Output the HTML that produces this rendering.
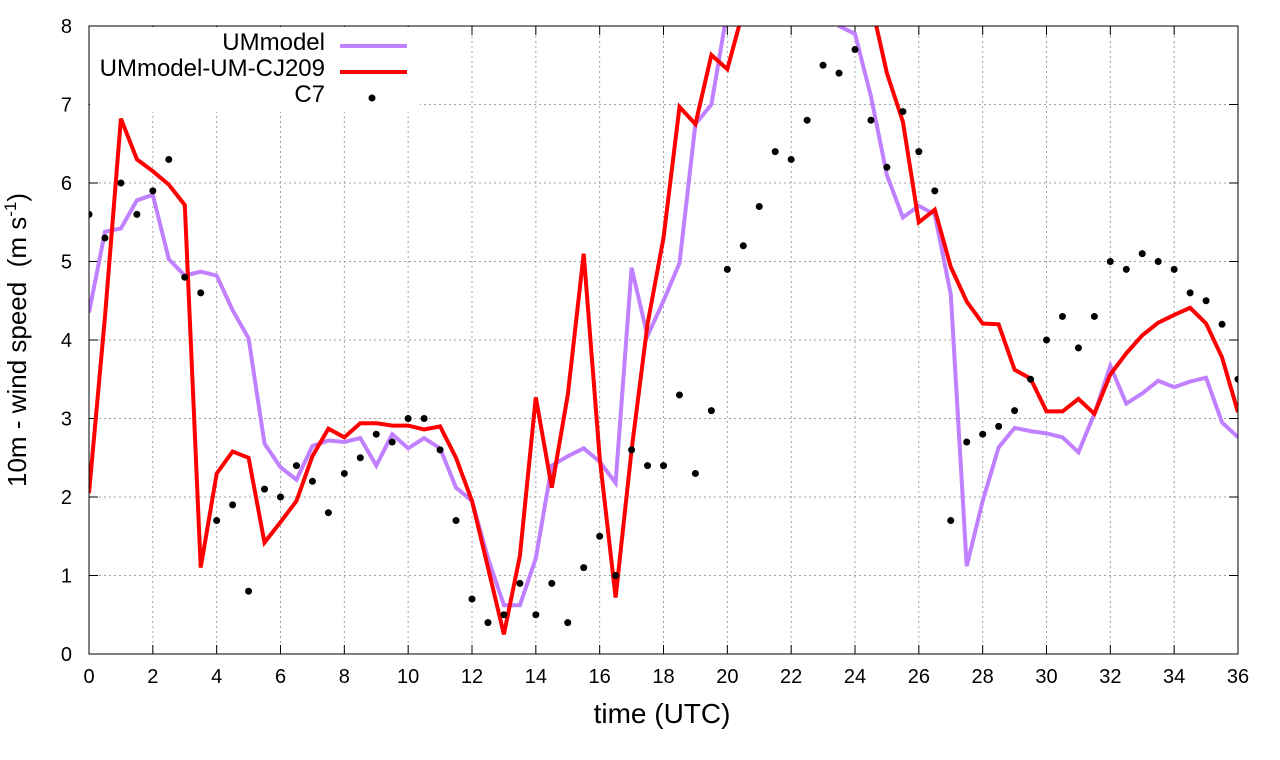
<!DOCTYPE html>
<html><head><meta charset="utf-8"><style>
html,body{margin:0;padding:0;background:#fff;}
svg{display:block;font-family:"Liberation Sans",sans-serif;}
</style></head><body>
<svg id="chart" width="1280" height="760" viewBox="0 0 1280 760" xmlns="http://www.w3.org/2000/svg">
<defs><clipPath id="clip"><rect x="89" y="26" width="1149" height="628"/></clipPath></defs>
<g id="grid"></g>
<g id="ticks"></g>
<g id="series" clip-path="url(#clip)"></g>
<rect x="90" y="27" width="330" height="85" fill="#fff"/>
<g font-size="24">
<text x="325" y="50" text-anchor="end">UMmodel</text>
<line x1="340" y1="46" x2="407" y2="46" stroke="#c080ff" stroke-width="4"/>
<text x="325" y="76" text-anchor="end">UMmodel-UM-CJ209</text>
<line x1="340" y1="72" x2="407" y2="72" stroke="#ff0000" stroke-width="4"/>
<text x="325" y="102" text-anchor="end">C7</text>
<circle cx="372" cy="98" r="3.5" fill="#000"/>
</g>
<rect x="89" y="26" width="1149" height="628" fill="none" stroke="#000" stroke-width="1"/>
<g id="labels" font-size="20"></g>
<text x="662" y="723" font-size="28" text-anchor="middle">time (UTC)</text>
<text transform="translate(26,340) rotate(-90)" font-size="26" text-anchor="middle" xml:space="preserve">10m - wind speed  (m s<tspan font-size="17" dy="-10">-1</tspan><tspan dy="10">)</tspan></text>
</svg>
<script>
const times = [];
for (let i = 0; i <= 72; i++) times.push(i / 2);
const umModel = [4.35,5.38,5.42,5.78,5.85,5.03,4.82,4.87,4.82,4.38,4.02,2.68,2.38,2.22,2.65,2.72,2.70,2.75,2.40,2.80,2.62,2.75,2.62,2.12,1.95,1.22,0.62,0.62,1.22,2.40,2.52,2.62,2.45,2.18,4.92,4.05,4.50,4.98,6.75,7.00,8.2,9.0,9.5,10,10,9.5,8.8,8.0,7.9,7.1,6.1,5.56,5.71,5.6,4.58,1.12,1.95,2.63,2.88,2.84,2.81,2.76,2.57,3.06,3.67,3.19,3.32,3.48,3.40,3.47,3.52,2.95,2.76];
const umCJ209 = [2.05,4.3,6.82,6.3,6.15,5.98,5.72,1.1,2.3,2.58,2.5,1.42,1.68,1.95,2.52,2.87,2.76,2.94,2.94,2.91,2.91,2.86,2.9,2.5,1.95,1.1,0.25,1.25,3.27,2.12,3.3,5.1,2.5,0.72,2.6,4.2,5.3,6.97,6.75,7.63,7.45,8.2,9.0,9.5,10,10,9.8,9.5,9.0,8.3,7.4,6.78,5.50,5.66,4.93,4.49,4.21,4.20,3.62,3.51,3.09,3.09,3.25,3.06,3.56,3.83,4.06,4.22,4.32,4.41,4.21,3.78,3.08];
const c7 = [5.6,5.3,6.0,5.6,5.9,6.3,4.8,4.6,1.7,1.9,0.8,2.1,2.0,2.4,2.2,1.8,2.3,2.5,2.8,2.7,3.0,3.0,2.6,1.7,0.7,0.4,0.5,0.9,0.5,0.9,0.4,1.1,1.5,1.0,2.6,2.4,2.4,3.3,2.3,3.1,4.9,5.2,5.7,6.4,6.3,6.8,7.5,7.4,7.7,6.8,6.2,6.91,6.4,5.9,1.7,2.7,2.8,2.9,3.1,3.5,4.0,4.3,3.9,4.3,5.0,4.9,5.1,5.0,4.9,4.6,4.5,4.2,3.5];
const xTicks = [0,2,4,6,8,10,12,14,16,18,20,22,24,26,28,30,32,34,36];
const yTicks = [0,1,2,3,4,5,6,7,8];

const NS = "http://www.w3.org/2000/svg";
const X0 = 89, X1 = 1238, Y0 = 654, Y1 = 26;
function xs(t){ return X0 + (t - 0) / 36 * (X1 - X0); }
function ys(v){ return Y0 - v / 8 * (Y0 - Y1); }
function mk(tag, attrs, parent){ const e = document.createElementNS(NS, tag); for (const k in attrs) e.setAttribute(k, attrs[k]); parent.appendChild(e); return e; }

const grid = document.getElementById('grid'), ticks = document.getElementById('ticks'), labels = document.getElementById('labels'), series = document.getElementById('series');
xTicks.forEach(t => {
  const x = xs(t);
  if (t > 0 && t < 36) {
    const g = mk('line', {x1:x, y1:Y1, x2:x, y2:Y0, stroke:'#a0a0a0', 'stroke-width':1, 'stroke-dasharray':'2,3'}, grid);
    
    
  }
  const tk = mk('path', {d:`M${x},${Y0}v-9M${x},${Y1}v9`, stroke:'#000', 'stroke-width':1}, ticks);
  
  
  const l = mk('text', {x:x, y:683, 'text-anchor':'middle'}, labels);
  l.textContent = t;
  
  
});
yTicks.forEach(v => {
  const y = ys(v);
  if (v > 0 && v < 8) {
    const g = mk('line', {x1:X0, y1:y, x2:X1, y2:y, stroke:'#a0a0a0', 'stroke-width':1, 'stroke-dasharray':'2,3'}, grid);
    
    
  }
  const tk = mk('path', {d:`M${X0},${y}h9M${X1},${y}h-9`, stroke:'#000', 'stroke-width':1}, ticks);
  
  
  const l = mk('text', {x:72, y:y + 7, 'text-anchor':'end'}, labels);
  l.textContent = v;
  
  
});
function line(vals, color, name){
  const d = vals.map((v, i) => (i ? 'L' : 'M') + xs(times[i]).toFixed(1) + ',' + ys(v).toFixed(1)).join('');
  const p = mk('path', {d:d, fill:'none', stroke:color, 'stroke-width':4, 'stroke-linejoin':'miter'}, series);
  
  
}
line(umModel, '#c080ff', 'ummodel-line');
line(umCJ209, '#ff0000', 'ummodel-um-cj209-line');
c7.forEach((v, i) => {
  const c = mk('circle', {cx:xs(times[i]), cy:ys(v), r:3.5, fill:'#000'}, series);
  
  
});
</script>
</body></html>
